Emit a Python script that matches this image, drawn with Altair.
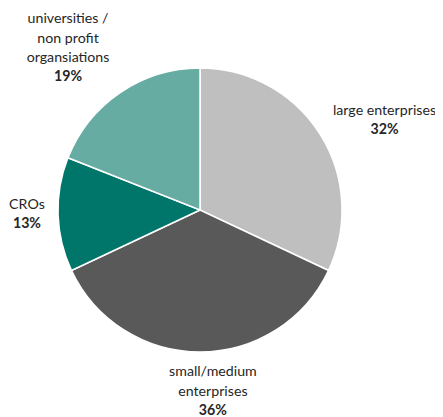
import altair as alt
import pandas as pd

categories = ["large enterprises", "small/medium enterprises", "CROs",
              "universities / non profit organisations"]
name_lines = [["large enterprises"], ["small/medium", "enterprises"], ["CROs"],
              ["universities /", "non profit", "organsiations"]]
values = [32, 36, 13, 19]
colors = ["#bfbfbf", "#595959", "#00766a", "#67aca3"]

df = pd.DataFrame({
    "category": categories,
    "label": ["\n".join(l) for l in name_lines],
    "nlines": [len(l) for l in name_lines],
    "pct": [f"{v}%" for v in values],
    "value": values,
    "order": list(range(len(categories))),
})

CX, CY, R = 192, 202, 142
FONT = "Lato"
FS = 14.2
LH = 19.3

base = alt.Chart(df)

arcs = base.mark_arc(outerRadius=R, stroke="white", strokeWidth=1.5).encode(
    x=alt.value(CX), y=alt.value(CY),
    theta=alt.Theta("value:Q", stack=True),
    order=alt.Order("order:Q"),
    color=alt.Color("category:N", scale=alt.Scale(domain=categories, range=colors), legend=None),
)

# label anchors: placed outside each slice's mid-angle, with per-slice distance and nudge
lab = base.transform_window(
    cum="sum(value)", sort=[alt.SortField("order")], frame=[None, 0]
).transform_joinaggregate(total="sum(value)").transform_calculate(
    lr="datum.order == 0 ? 213 : datum.order == 1 ? 156 : datum.order == 2 ? 173.5 : 237.6",
    adj="datum.order == 0 ? 2.43 : datum.order == 1 ? -4.74 : datum.order == 2 ? 5.9 : 0.47",
).transform_calculate(
    ang="(datum.cum - datum.value / 2) / datum.total * 2 * PI + datum.adj * PI / 180"
).transform_calculate(
    px=f"{CX} + datum.lr * sin(datum.ang)",
    py=f"{CY} - datum.lr * cos(datum.ang)",
).transform_calculate(
    py2=f"datum.py + datum.nlines * {LH}"
)

names = lab.mark_text(font=FONT, fontSize=FS, lineBreak="\n", lineHeight=LH,
                      baseline="top", align="center", color="#262626").encode(
    x=alt.X("px:Q", scale=None), y=alt.Y("py:Q", scale=None), text="label:N")

pcts = lab.mark_text(font=FONT, fontSize=FS, fontWeight="bold",
                     baseline="top", align="center", color="#262626").encode(
    x=alt.X("px:Q", scale=None), y=alt.Y("py2:Q", scale=None), text="pct:N")

chart = alt.layer(arcs, names, pcts).properties(
    width=427, height=409, autosize=alt.AutoSizeParams(type="none"), padding=0
).configure_view(stroke=None)

chart.save("out.html", embed_options={"renderer": "svg", "actions": False})
